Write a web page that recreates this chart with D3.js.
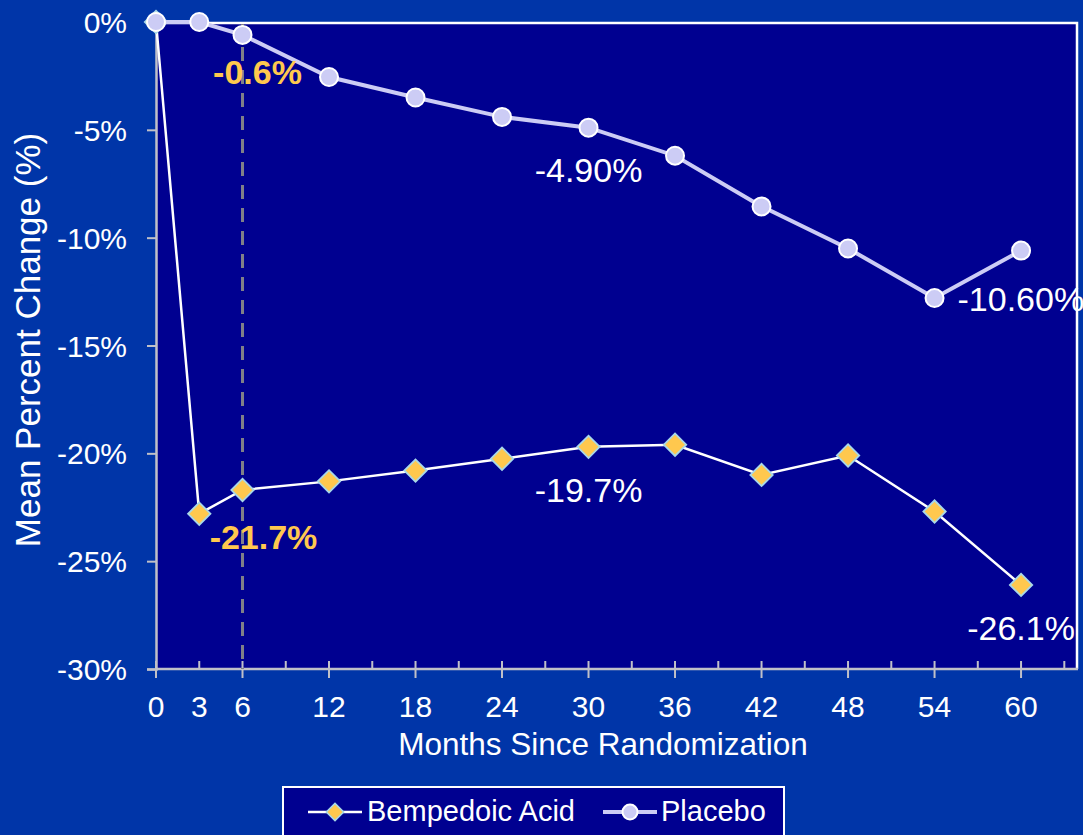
<!DOCTYPE html>
<html>
<head>
<meta charset="utf-8">
<script src="https://cdn.jsdelivr.net/npm/d3@7"></script>
<style>
  html, body { margin: 0; padding: 0; background: #0035A8; }
  svg { display: block; font-family: "Liberation Sans", Arial, sans-serif; }
</style>
</head>
<body>
<svg id="chart" width="1083" height="835"></svg>
<script>
// Visit months and mean percent change per arm
const months = [0, 3, 6, 12, 18, 24, 30, 36, 42, 48, 54, 60];
const bempedoic = [0, -22.8, -21.7, -21.3, -20.8, -20.25, -19.7, -19.6, -21.0, -20.1, -22.7, -26.1];
const placebo = [0, 0, -0.6, -2.55, -3.5, -4.4, -4.9, -6.2, -8.55, -10.5, -12.8, -10.6];
const xTickLabels = [0, 3, 6, 12, 18, 24, 30, 36, 42, 48, 54, 60];
const yTicks = [0, -5, -10, -15, -20, -25, -30];
const seriesNames = ["Bempedoic Acid", "Placebo"];

// Point annotations: [series, month, text, highlighted]
const annotations = [
  ["placebo", 6, "-0.6%", true],
  ["bempedoic", 6, "-21.7%", true],
  ["placebo", 30, "-4.90%", false],
  ["bempedoic", 30, "-19.7%", false],
  ["placebo", 60, "-10.60%", false],
  ["bempedoic", 60, "-26.1%", false]
];

const svg = d3.select("#chart");
const W = 1083, H = 835;
const plot = { left: 156, top: 22, right: 1078, bottom: 669 };

const x = d3.scaleLinear().domain([0, 63.95]).range([plot.left, plot.right]);
const y = d3.scaleLinear().domain([-30, 0]).range([plot.bottom, plot.top]);

const bgBlue = "#0035A8";
const navy = "#000090";
const gold = "#FFC84E";
const lav = "#CCCCF5";
const axisGray = "#C0C0C8";
const font = "Liberation Sans, Arial, sans-serif";

svg.append("rect").attr("width", W).attr("height", H).attr("fill", bgBlue);

// plot area
svg.append("rect")
  .attr("x", plot.left).attr("y", plot.top)
  .attr("width", plot.right - plot.left).attr("height", plot.bottom - plot.top)
  .attr("fill", navy);
// top and right frame
svg.append("path")
  .attr("d", `M${plot.left},${plot.top + 1}H${plot.right - 1}V${plot.bottom}`)
  .attr("fill", "none").attr("stroke", "#FFFFFF").attr("stroke-width", 2.5);

// y axis
const yAxis = d3.axisLeft(y).tickValues(yTicks).tickFormat(d => d + "%").tickSize(9).tickPadding(20);
const gy = svg.append("g").attr("transform", `translate(${plot.left},0)`).call(yAxis);
gy.attr("font-size", 30).attr("font-family", font);
gy.select(".domain").attr("stroke", axisGray).attr("stroke-width", 2.5);
gy.selectAll(".tick line").attr("stroke", axisGray).attr("stroke-width", 2);
gy.selectAll(".tick text").attr("fill", "#FFFFFF").attr("dy", "0.35em");

// x axis: minor inner ticks every 3 months, major crossing ticks at labelled months
const minorTicks = d3.range(3, 64, 6);
const gx = svg.append("g").attr("transform", `translate(0,${plot.bottom})`);
gx.append("line").attr("x1", plot.left).attr("x2", plot.right)
  .attr("stroke", axisGray).attr("stroke-width", 2.5);
gx.selectAll("line.minor").data(minorTicks).join("line").attr("class", "minor")
  .attr("x1", d => x(d)).attr("x2", d => x(d)).attr("y1", 0).attr("y2", -8)
  .attr("stroke", axisGray).attr("stroke-width", 2);
const majorTicks = d3.range(0, 61, 6);
gx.selectAll("line.major").data(majorTicks).join("line").attr("class", "major")
  .attr("x1", d => x(d)).attr("x2", d => x(d)).attr("y1", -8).attr("y2", 9)
  .attr("stroke", axisGray).attr("stroke-width", 2);
gx.selectAll("text").data(xTickLabels).join("text")
  .attr("x", d => x(d)).attr("y", 48)
  .attr("text-anchor", "middle").attr("fill", "#FFFFFF").attr("font-size", 30)
  .text(d => d);

// axis titles
svg.append("text").attr("x", 603).attr("y", 755).attr("text-anchor", "middle")
  .attr("fill", "#FFFFFF").attr("font-size", 31.5).text("Months Since Randomization");
svg.append("text").attr("transform", "translate(40,340) rotate(-90)").attr("text-anchor", "middle")
  .attr("fill", "#FFFFFF").attr("font-size", 35).text("Mean Percent Change (%)");

// reference line at 6 months
svg.append("line").attr("x1", x(6)).attr("x2", x(6)).attr("y1", plot.top + 2).attr("y2", plot.bottom)
  .attr("stroke", "#808088").attr("stroke-width", 3).attr("stroke-dasharray", "14,9");

const line = d3.line().x(d => x(d[0])).y(d => y(d[1]));
const bData = months.map((m, i) => [m, bempedoic[i]]);
const pData = months.map((m, i) => [m, placebo[i]]);

// bempedoic acid
svg.append("path").datum(bData).attr("d", line)
  .attr("fill", "none").attr("stroke", "#FFFFFF").attr("stroke-width", 2.5);
const diamond = d3.symbol().type(d3.symbolSquare).size(250);
svg.selectAll("path.bd").data(bData).join("path").attr("class", "bd")
  .attr("d", diamond)
  .attr("transform", d => `translate(${x(d[0])},${y(d[1])}) rotate(45)`)
  .attr("fill", gold).attr("stroke", "#A8D8E8").attr("stroke-width", 1.8);

// placebo
svg.append("path").datum(pData).attr("d", line)
  .attr("fill", "none").attr("stroke", lav).attr("stroke-width", 4);
svg.selectAll("circle.pl").data(pData).join("circle").attr("class", "pl")
  .attr("cx", d => x(d[0])).attr("cy", d => y(d[1])).attr("r", 9)
  .attr("fill", lav).attr("stroke", "#FFFFFF").attr("stroke-width", 2);

// annotations: offset of the text baseline from the point
const lookup = { placebo: placebo, bempedoic: bempedoic };
const offsets = {
  "placebo-6": [15, 49, "middle"],
  "bempedoic-6": [21, 59, "middle"],
  "placebo-30": [0, 54, "middle"],
  "bempedoic-30": [0, 55, "middle"],
  "bempedoic-60": [0, 55, "middle"]
};
annotations.forEach(([s, m, txt, hi]) => {
  const v = lookup[s][months.indexOf(m)];
  let ax, ay, anchor;
  if (s === "placebo" && m === 60) {
    // sits to the right of the 54-month point
    ax = x(54) + 23; ay = y(placebo[months.indexOf(54)]) + 13; anchor = "start";
  } else {
    const o = offsets[s + "-" + m];
    ax = x(m) + o[0]; ay = y(v) + o[1]; anchor = o[2];
  }
  svg.append("text").attr("x", ax).attr("y", ay).attr("text-anchor", anchor)
    .attr("fill", hi ? gold : "#FFFFFF").attr("font-size", 34)
    .attr("font-weight", hi ? "bold" : "normal").text(txt);
});

// legend
const lg = svg.append("g");
lg.append("rect").attr("x", 283).attr("y", 787).attr("width", 501).attr("height", 52)
  .attr("fill", navy).attr("stroke", "#FFFFFF").attr("stroke-width", 2);
const ly = 812;
lg.append("line").attr("x1", 308).attr("x2", 362).attr("y1", ly).attr("y2", ly)
  .attr("stroke", "#FFFFFF").attr("stroke-width", 2.5);
lg.append("path").attr("d", d3.symbol().type(d3.symbolSquare).size(150))
  .attr("transform", `translate(335,${ly}) rotate(45)`)
  .attr("fill", gold).attr("stroke", "#A8D8E8").attr("stroke-width", 1.5);
lg.append("text").attr("x", 367).attr("y", 821).attr("fill", "#FFFFFF").attr("font-size", 29).text(seriesNames[0]);
lg.append("line").attr("x1", 603).attr("x2", 657).attr("y1", ly).attr("y2", ly)
  .attr("stroke", lav).attr("stroke-width", 4);
lg.append("circle").attr("cx", 630).attr("cy", ly).attr("r", 7.5)
  .attr("fill", lav).attr("stroke", "#FFFFFF").attr("stroke-width", 2);
lg.append("text").attr("x", 661).attr("y", 821).attr("fill", "#FFFFFF").attr("font-size", 29).text(seriesNames[1]);
</script>
</body>
</html>
